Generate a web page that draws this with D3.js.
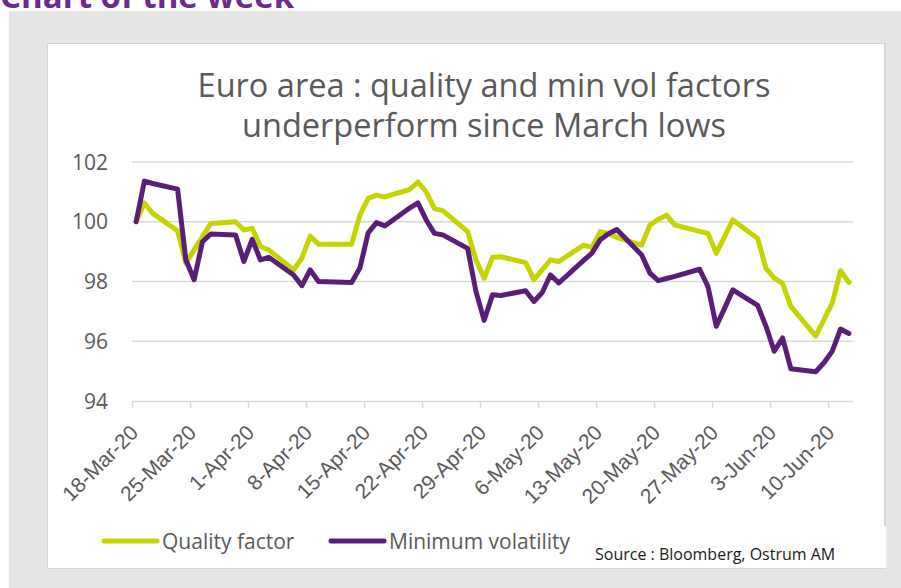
<!DOCTYPE html>
<html>
<head>
<meta charset="utf-8">
<title>Chart of the week</title>
<style>
body { margin: 0; background: #fff; }
svg { display: block; font-family: 'Open Sans', sans-serif; }
.grid line { stroke: #d9d9d9; stroke-width: 1.5px; }
.ylab { fill: #595959; font-size: 21px; }
.xlab { fill: #595959; font-size: 21px; }
.title { fill: #595959; font-size: 32.5px; }
.legend text { fill: #595959; font-size: 21px; }
</style>
</head>
<body>
<svg width="901" height="588"></svg>
<script src="https://cdnjs.cloudflare.com/ajax/libs/d3/7.8.5/d3.min.js"></script>
<script>
// daily values, index 18-Mar-20 = 100
var dates = ["2020-03-18","2020-03-19","2020-03-20","2020-03-23","2020-03-24","2020-03-25","2020-03-26","2020-03-27","2020-03-30","2020-03-31",
  "2020-04-01","2020-04-02","2020-04-03","2020-04-06","2020-04-07","2020-04-08","2020-04-09","2020-04-10","2020-04-13","2020-04-14",
  "2020-04-15","2020-04-16","2020-04-17","2020-04-20","2020-04-21","2020-04-22","2020-04-23","2020-04-24","2020-04-27","2020-04-28",
  "2020-04-29","2020-04-30","2020-05-01","2020-05-04","2020-05-05","2020-05-06","2020-05-07","2020-05-08","2020-05-11","2020-05-12",
  "2020-05-13","2020-05-14","2020-05-15","2020-05-18","2020-05-19","2020-05-20","2020-05-21","2020-05-22","2020-05-25","2020-05-26",
  "2020-05-27","2020-05-28","2020-05-29","2020-06-01","2020-06-02","2020-06-03","2020-06-04","2020-06-05","2020-06-08","2020-06-09",
  "2020-06-10","2020-06-11","2020-06-12"];
var quality = [100.0,100.63,100.28,99.7,98.61,99.06,99.5,99.94,100.0,99.72,
  99.78,99.17,99.06,98.39,98.78,99.52,99.25,99.25,99.25,100.22,
  100.78,100.89,100.83,101.08,101.33,101.0,100.44,100.37,99.67,98.72,
  98.11,98.81,98.83,98.63,98.06,98.39,98.72,98.67,99.22,99.14,
  99.67,99.61,99.48,99.22,99.89,100.08,100.22,99.89,99.68,99.61,
  98.94,99.5,100.06,99.44,98.44,98.11,97.94,97.17,96.17,96.72,
  97.28,98.36,97.97];
var minVol = [100.0,101.36,101.28,101.09,98.72,98.06,99.33,99.59,99.56,98.67,
  99.41,98.72,98.81,98.22,97.86,98.39,98.0,97.99,97.97,98.45,
  99.63,99.97,99.86,100.46,100.63,100.06,99.61,99.56,99.11,97.67,
  96.7,97.56,97.53,97.69,97.33,97.63,98.22,97.95,98.71,98.95,
  99.4,99.6,99.74,98.89,98.28,98.03,98.1,98.17,98.41,97.83,
  96.5,97.1,97.72,97.2,96.5,95.67,96.11,95.08,94.98,95.28,
  95.67,96.41,96.26];
var yTicks = [94, 96, 98, 100, 102];
var seriesNames = ["Quality factor", "Minimum volatility"];
var seriesColors = ["#c5d400", "#5a1e76"];

var svg = d3.select("svg");
var parse = d3.timeParse("%Y-%m-%d");

// page furniture
svg.append("text")
  .attr("x", 0).attr("y", 8)
  .attr("fill", "#6b2a8c")
  .style("font-size", "33px").style("font-weight", "bold")
  .text("Chart of the week");
svg.append("rect").attr("x", 9).attr("y", 11).attr("width", 892).attr("height", 577).attr("fill", "#e6e6e6");
svg.append("rect").attr("x", 47).attr("y", 43).attr("width", 839).attr("height", 526).attr("fill", "#d6d6d6");
svg.append("rect").attr("x", 48).attr("y", 44).attr("width", 836).attr("height", 524).attr("fill", "#fff");

var x = d3.scaleTime()
  .domain([parse("2020-03-18"), parse("2020-06-13")])
  .range([132, 853]);
var y = d3.scaleLinear().domain([94, 102]).range([401, 162]);

// title
var title = svg.append("text").attr("class", "title").attr("text-anchor", "middle");
title.append("tspan").attr("x", 484).attr("y", 97).text("Euro area : quality and min vol factors");
title.append("tspan").attr("x", 484).attr("y", 137).text("underperform since March lows");

// grid
svg.append("g").attr("class", "grid")
  .selectAll("line").data(yTicks.slice(1)).enter().append("line")
  .attr("x1", 132).attr("x2", 853)
  .attr("y1", d => y(d)).attr("y2", d => y(d));

svg.selectAll(".ylab").data(yTicks).enter().append("text")
  .attr("class", "ylab")
  .attr("x", 108).attr("y", d => y(d))
  .attr("dy", "0.36em")
  .attr("text-anchor", "end")
  .text(d => d);

// x axis, weekly ticks
var xTicks = d3.range(0, 13).map(i => d3.timeDay.offset(parse("2020-03-18"), i * 7));
var xAxis = svg.append("g")
  .attr("transform", "translate(0,401)")
  .call(d3.axisBottom(x).tickValues(xTicks).tickSize(7).tickSizeOuter(0).tickFormat(d3.timeFormat("%-d-%b-%y")));
xAxis.select(".domain").attr("stroke", "#d9d9d9").attr("stroke-width", 1.5);
xAxis.selectAll(".tick line").attr("stroke", "#d9d9d9").attr("stroke-width", 1.5);
xAxis.selectAll(".tick text")
  .attr("class", "xlab")
  .attr("text-anchor", "end")
  .attr("x", 0).attr("y", 0).attr("dy", 0)
  .attr("transform", "translate(7,33) rotate(-45)");

// lines (points sit in the middle of each day)
var line = d3.line()
  .x(d => x(d3.timeHour.offset(parse(d[0]), 12)))
  .y(d => y(d[1]));
[quality, minVol].forEach(function(vals, i) {
  svg.append("path")
    .datum(dates.map((d, j) => [d, vals[j]]))
    .attr("fill", "none")
    .attr("stroke", seriesColors[i])
    .attr("stroke-width", 5)
    .attr("stroke-linejoin", "round")
    .attr("stroke-linecap", "round")
    .attr("d", line);
});

// legend
var legend = svg.append("g").attr("class", "legend");
var legX = [104, 331];
seriesNames.forEach(function(name, i) {
  legend.append("line")
    .attr("x1", legX[i]).attr("x2", legX[i] + 53)
    .attr("y1", 541).attr("y2", 541)
    .attr("stroke", seriesColors[i]).attr("stroke-width", 5).attr("stroke-linecap", "round");
  legend.append("text")
    .attr("x", legX[i] + 58).attr("y", 541).attr("dy", "0.36em")
    .text(name);
});

// source box
svg.append("rect").attr("x", 575).attr("y", 526).attr("width", 311).attr("height", 42).attr("fill", "#fff");
svg.append("text")
  .attr("x", 595).attr("y", 560)
  .attr("fill", "#1a1a1a")
  .style("font-size", "16px")
  .text("Source : Bloomberg, Ostrum AM");
</script>
</body>
</html>
